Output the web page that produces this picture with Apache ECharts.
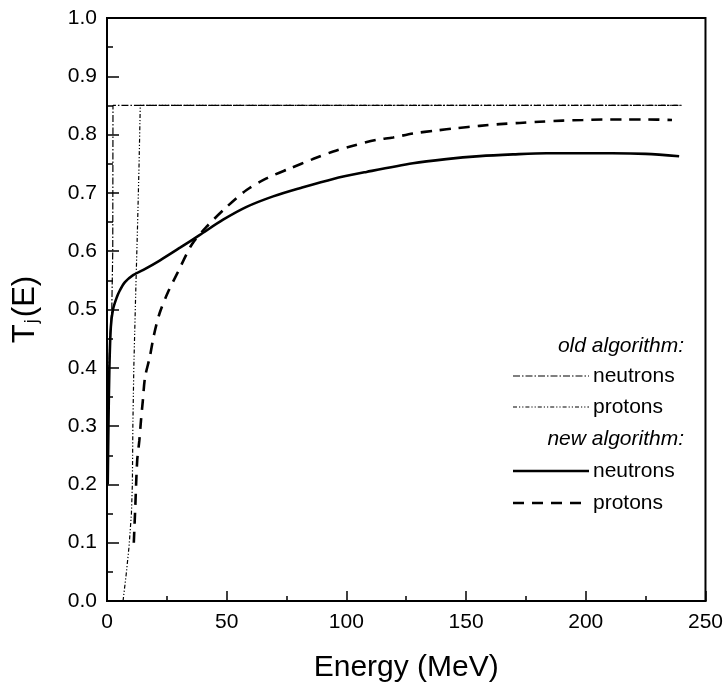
<!DOCTYPE html>
<html><head><meta charset="utf-8">
<script src="https://cdn.jsdelivr.net/npm/echarts@6/dist/echarts.min.js"></script>
<style>html,body{margin:0;padding:0;background:#fff}#c{width:726px;height:694px}</style>
</head><body><div id="c"></div>
<script>
// Energy (MeV) vs T_j(E)
var oldNeutrons = [[0.2,0.2],[0.5,0.35],[1.2,0.45],[2.0,0.5],[2.4,0.6],[2.5,0.85],[240,0.85]];
var oldProtons = [[6.7,0],[8,0.045],[9.2,0.093],[10.2,0.15],[10.6,0.2],[10.8,0.3],[11.2,0.4],[12,0.53],[12.8,0.65],[13.4,0.75],[13.9,0.85],[240,0.85]];
var newNeutrons = [[0.3,0.2],[0.6,0.3],[1.0,0.4],[1.6,0.47],[2.5,0.5],[4,0.52],[5.4,0.533],[7.5,0.547],[10.9,0.559],[15.2,0.568],[22,0.584],[30.5,0.606],[38.8,0.628],[48.5,0.654],[58.3,0.676],[69.4,0.694],[80.5,0.708],[94.5,0.724],[108.4,0.736],[127.8,0.751],[141.7,0.758],[155.7,0.763],[169.6,0.766],[183.5,0.768],[197.4,0.768],[211,0.768],[225,0.767],[239,0.763]];
var newProtons = [[11.2,0.1],[11.8,0.16],[12.6,0.24],[13.5,0.275],[14.2,0.31],[15,0.345],[15.9,0.384],[17.9,0.419],[19.6,0.456],[22,0.494],[25.5,0.53],[29.6,0.564],[35.5,0.612],[41.6,0.642],[50,0.676],[58.3,0.705],[66.6,0.725],[76.4,0.742],[86,0.758],[94.5,0.771],[102.8,0.781],[112.6,0.791],[119.5,0.795],[127.8,0.802],[137.6,0.807],[146,0.811],[155.7,0.815],[164,0.818],[172.4,0.82],[180.7,0.822],[190.4,0.824],[198.8,0.825],[207,0.826],[215.5,0.826],[225,0.826],[236,0.825]];
var legendHeaders = ['old algorithm:', 'new algorithm:'];
var legendNames = ['neutrons', 'protons'];

var FONT = 'Liberation Sans, Arial, sans-serif';
var chart = echarts.init(document.getElementById('c'), null, {renderer:'canvas'});

var L = {x0:513, x1:589, tx:593};
var rows = [346, 376, 407, 439, 471, 503];
function sample(y, dash, w){
  return {type:'line', shape:{x1:L.x0, y1:y, x2:L.x1, y2:y}, style:{stroke:'#000', lineWidth:w, lineDash:dash}};
}
function txt(x, y, s, italic, align){
  return {type:'text', x:x, y:y, style:{text:s, fill:'#000', font:(italic?'italic ':'')+'21px '+FONT, textAlign:align||'left', textVerticalAlign:'middle'}};
}

chart.setOption({
  animation:false,
  backgroundColor:'#fff',
  grid:{left:107, right:20, top:18, bottom:93, show:true, borderColor:'#000', borderWidth:2},
  xAxis:{type:'value', min:0, max:250, interval:50,
    axisLine:{show:true, lineStyle:{color:'#000', width:2}},
    axisTick:{show:true, inside:true, length:10, lineStyle:{color:'#000', width:1.5}},
    minorTick:{show:true, splitNumber:2, length:5, lineStyle:{color:'#000', width:1.5}},
    splitLine:{show:false},
    axisLabel:{color:'#000', fontSize:21, fontFamily:FONT, margin:11},
    name:'Energy (MeV)', nameLocation:'middle', nameGap:52,
    nameTextStyle:{color:'#000', fontSize:30, fontFamily:FONT}
  },
  yAxis:{type:'value', min:0, max:1, interval:0.1,
    axisLine:{show:true, lineStyle:{color:'#000', width:2}},
    axisTick:{show:true, inside:true, length:12, lineStyle:{color:'#000', width:1.5}},
    minorTick:{show:true, splitNumber:2, length:6, lineStyle:{color:'#000', width:1.5}},
    splitLine:{show:false},
    axisLabel:{color:'#000', fontSize:21, fontFamily:FONT, margin:10, formatter:function(v){return v.toFixed(1);}},
    name:'{a|T}{b|j}{a|(E)}', nameLocation:'middle', nameGap:66, nameRotate:90,
    nameTextStyle:{rich:{a:{fontSize:31, fontFamily:FONT, color:'#000'}, b:{fontSize:18, fontFamily:FONT, color:'#000', verticalAlign:'bottom', padding:[14,2,0,1]}}}
  },
  series:[
    {name:'old neutrons', type:'line', data:oldNeutrons, showSymbol:false, symbol:'none', lineStyle:{color:'#000', width:1.2, type:[7,2,1.5,2]}},
    {name:'old protons', type:'line', data:oldProtons, showSymbol:false, symbol:'none', lineStyle:{color:'#000', width:1.2, type:[4,2,1.2,2,1.2,2]}},
    {name:'new neutrons', type:'line', data:newNeutrons, showSymbol:false, symbol:'none', smooth:0.3, lineStyle:{color:'#000', width:2.6}},
    {name:'new protons', type:'line', data:newProtons, showSymbol:false, symbol:'none', smooth:0.3, lineStyle:{color:'#000', width:2.6, type:[11,8]}}
  ],
  graphic:[
    txt(684, rows[0], legendHeaders[0], true, 'right'),
    sample(rows[1], [7,2,1.5,2], 1.2), txt(L.tx, rows[1], legendNames[0], false),
    sample(rows[2], [4,2,1.2,2,1.2,2], 1.2), txt(L.tx, rows[2], legendNames[1], false),
    txt(684, rows[3], legendHeaders[1], true, 'right'),
    sample(rows[4], null, 2.6), txt(L.tx, rows[4], legendNames[0], false),
    sample(rows[5], [11,8], 2.6), txt(L.tx, rows[5], legendNames[1], false)
  ]
});
</script></body></html>
